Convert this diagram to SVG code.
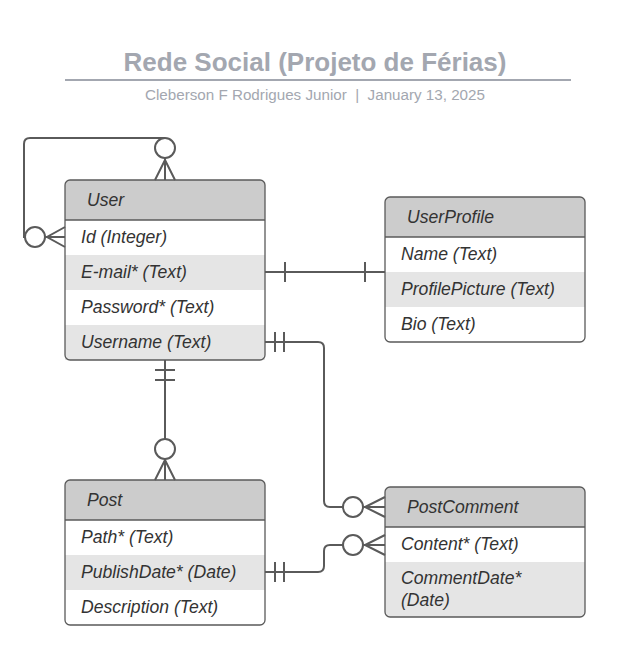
<svg xmlns="http://www.w3.org/2000/svg" width="641" height="665" viewBox="0 0 641 665">
<style>
.title{font-family:"Liberation Sans",Arial,sans-serif;font-weight:bold;font-size:26px;fill:#a3a7b0}
.sub{font-family:"Liberation Sans",Arial,sans-serif;font-size:15.2px;fill:#a3a7b0}
.t{font-family:"Liberation Sans",Arial,sans-serif;font-style:italic;font-size:17.6px;fill:#333}
.hd{fill:#cccccc}
.alt{fill:#e5e5e5}
.frame{fill:none;stroke:#5a5a5a;stroke-width:1.3}
.sep{stroke:#5a5a5a;stroke-width:1.3}
.c{fill:none;stroke:#5a5a5a;stroke-width:2}
.o{fill:#fff;stroke:#5a5a5a;stroke-width:2}
</style>
<rect width="641" height="665" fill="#fff"/>
<g id="title">
<text class="title" x="315" y="71" text-anchor="middle">Rede Social (Projeto de Férias)</text>
<line x1="65" y1="80" x2="571" y2="80" stroke="#a3a7b0" stroke-width="2"/>
<text class="sub" x="315" y="100" text-anchor="middle" xml:space="preserve">Cleberson F Rodrigues Junior  |  January 13, 2025</text>
</g>
<g id="User">
<rect x="65" y="180" width="200" height="180" rx="5" fill="#fff"/>
<path class="hd" d="M70 180H260A5 5 0 0 1 265 185V220H65V185A5 5 0 0 1 70 180Z"/>
<rect class="alt" x="65" y="255" width="200" height="35"/>
<rect class="alt" x="65" y="325" width="200" height="35"/>
<line class="sep" x1="65" y1="220" x2="265" y2="220"/>
<rect class="frame" x="65" y="180" width="200" height="180" rx="5"/>
<text class="t" x="87" y="206">User</text>
<text class="t" x="81" y="243">Id (Integer)</text>
<text class="t" x="81" y="278">E-mail* (Text)</text>
<text class="t" x="81" y="313">Password* (Text)</text>
<text class="t" x="81" y="348">Username (Text)</text>
</g>
<g id="UserProfile">
<rect x="385" y="197" width="200" height="145" rx="5" fill="#fff"/>
<path class="hd" d="M390 197H580A5 5 0 0 1 585 202V237H385V202A5 5 0 0 1 390 197Z"/>
<rect class="alt" x="385" y="272" width="200" height="35"/>
<line class="sep" x1="385" y1="237" x2="585" y2="237"/>
<rect class="frame" x="385" y="197" width="200" height="145" rx="5"/>
<text class="t" x="407" y="223">UserProfile</text>
<text class="t" x="401" y="260">Name (Text)</text>
<text class="t" x="401" y="295">ProfilePicture (Text)</text>
<text class="t" x="401" y="330">Bio (Text)</text>
</g>
<g id="Post">
<rect x="65" y="480" width="200" height="145" rx="5" fill="#fff"/>
<path class="hd" d="M70 480H260A5 5 0 0 1 265 485V520H65V485A5 5 0 0 1 70 480Z"/>
<rect class="alt" x="65" y="555" width="200" height="35"/>
<line class="sep" x1="65" y1="520" x2="265" y2="520"/>
<rect class="frame" x="65" y="480" width="200" height="145" rx="5"/>
<text class="t" x="87" y="506">Post</text>
<text class="t" x="81" y="543">Path* (Text)</text>
<text class="t" x="81" y="578">PublishDate* (Date)</text>
<text class="t" x="81" y="613">Description (Text)</text>
</g>
<g id="PostComment">
<rect x="385" y="487" width="200" height="130" rx="5" fill="#fff"/>
<path class="hd" d="M390 487H580A5 5 0 0 1 585 492V527H385V492A5 5 0 0 1 390 487Z"/>
<path class="alt" d="M385 562H585V612A5 5 0 0 1 580 617H390A5 5 0 0 1 385 612Z"/>
<line class="sep" x1="385" y1="527" x2="585" y2="527"/>
<rect class="frame" x="385" y="487" width="200" height="130" rx="5"/>
<text class="t" x="407" y="513">PostComment</text>
<text class="t" x="401" y="550">Content* (Text)</text>
<text class="t" x="401" y="584">CommentDate*</text>
<text class="t" x="401" y="606">(Date)</text>
</g>
<g id="connectors">
<path class="c" d="M165 138H30Q24 138 24 144V237H25"/>
<path class="c" d="M155 180L165 160L175 180M165 158V180"/>
<circle class="o" cx="165" cy="148" r="10"/>
<path class="c" d="M65 227L47 237L65 247M45 237H65"/>
<circle class="o" cx="35" cy="237" r="10"/>
<path class="c" d="M265 272H385M285 262V282M365 262V282"/>
<path class="c" d="M165 360V439M155 370H175M155 380H175"/>
<path class="c" d="M155 480L165 460L175 480M165 459V480"/>
<circle class="o" cx="165" cy="449" r="10"/>
<path class="c" d="M265 342H318Q324 342 324 348V501Q324 507 330 507H343M275 332V352M284 332V352"/>
<path class="c" d="M385 497L365 507L385 517M363 507H385"/>
<circle class="o" cx="353" cy="507" r="10"/>
<path class="c" d="M265 572H318Q324 572 324 566V551Q324 545 330 545H343M275 562V582M284 562V582"/>
<path class="c" d="M385 535L365 545L385 555M363 545H385"/>
<circle class="o" cx="353" cy="545" r="10"/>
</g>
</svg>
